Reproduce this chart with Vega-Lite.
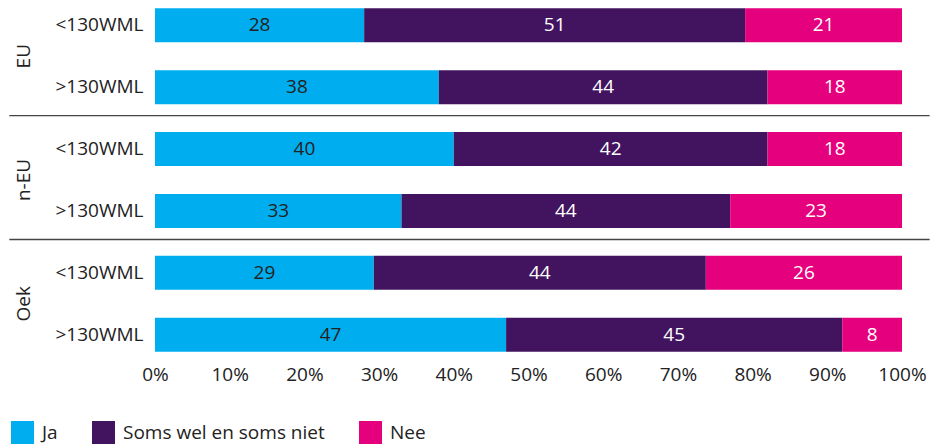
{
  "$schema": "https://vega.github.io/schema/vega-lite/v6.json",
  "autosize": {"type": "none"},
  "padding": {"left": 155, "top": 0, "right": 31, "bottom": 87},
  "width": 747,
  "height": 360,
  "background": "white",
  "config": {
    "font": "Open Sans",
    "view": {"stroke": null},
    "axis": {"labelFont": "Open Sans", "labelColor": "#222", "labelFontSize": 19},
    "axisY": {"title": null, "domain": false, "ticks": false, "labelPadding": 12, "labelLimit": 200, "labelExpr": "split(datum.value, '|')[1]"}
  },
  "datasets": {
    "main": [
      {"row": "EU|<130WML", "cat": "Ja", "k": 1, "v": 28},
      {"row": "EU|<130WML", "cat": "Soms wel en soms niet", "k": 2, "v": 51},
      {"row": "EU|<130WML", "cat": "Nee", "k": 3, "v": 21},
      {"row": "EU|>130WML", "cat": "Ja", "k": 1, "v": 38},
      {"row": "EU|>130WML", "cat": "Soms wel en soms niet", "k": 2, "v": 44},
      {"row": "EU|>130WML", "cat": "Nee", "k": 3, "v": 18},
      {"row": "n-EU|<130WML", "cat": "Ja", "k": 1, "v": 40},
      {"row": "n-EU|<130WML", "cat": "Soms wel en soms niet", "k": 2, "v": 42},
      {"row": "n-EU|<130WML", "cat": "Nee", "k": 3, "v": 18},
      {"row": "n-EU|>130WML", "cat": "Ja", "k": 1, "v": 33},
      {"row": "n-EU|>130WML", "cat": "Soms wel en soms niet", "k": 2, "v": 44},
      {"row": "n-EU|>130WML", "cat": "Nee", "k": 3, "v": 23},
      {"row": "Oek|<130WML", "cat": "Ja", "k": 1, "v": 29},
      {"row": "Oek|<130WML", "cat": "Soms wel en soms niet", "k": 2, "v": 44},
      {"row": "Oek|<130WML", "cat": "Nee", "k": 3, "v": 26},
      {"row": "Oek|>130WML", "cat": "Ja", "k": 1, "v": 47},
      {"row": "Oek|>130WML", "cat": "Soms wel en soms niet", "k": 2, "v": 45},
      {"row": "Oek|>130WML", "cat": "Nee", "k": 3, "v": 8}
    ],
    "seps": [
      {"row": "n-EU|<130WML"},
      {"row": "Oek|<130WML"}
    ],
    "groups": [
      {"row": "EU|>130WML", "g": "EU"},
      {"row": "n-EU|>130WML", "g": "n-EU"},
      {"row": "Oek|>130WML", "g": "Oek"}
    ]
  },
  "layer": [
    {
      "data": {"name": "main"},
      "mark": {"type": "bar"},
      "encoding": {
        "y": {
          "field": "row", "type": "nominal", "title": null,
          "sort": ["EU|<130WML", "EU|>130WML", "n-EU|<130WML", "n-EU|>130WML", "Oek|<130WML", "Oek|>130WML"],
          "scale": {"paddingInner": 0.45, "paddingOuter": 0.133}
        },
        "x": {
          "field": "v", "type": "quantitative", "stack": "normalize", "title": null,
          "scale": {"domain": [0, 1]},
          "axis": {"title": null, "domain": false, "ticks": false, "grid": false, "values": [0, 0.1, 0.2, 0.3, 0.4, 0.5, 0.6, 0.7, 0.8, 0.9, 1], "format": ".0%", "labelPadding": 5, "labelFlush": false, "labelOverlap": false, "labelBound": false}
        },
        "color": {
          "field": "cat", "type": "nominal",
          "scale": {"domain": ["Ja", "Soms wel en soms niet", "Nee"], "range": ["#00AEEF", "#42145F", "#E5007D"]},
          "legend": {
            "title": null, "orient": "none", "direction": "horizontal",
            "legendX": -144, "legendY": 421,
            "symbolType": "square", "symbolSize": 529, "symbolStrokeWidth": 0,
            "labelFontSize": 19, "labelColor": "#222", "labelFont": "Open Sans", "labelLimit": 400,
            "labelOffset": 8, "columnPadding": 34, "symbolOpacity": 1
          }
        },
        "order": {"field": "k", "type": "quantitative"}
      }
    },
    {
      "data": {"name": "main"},
      "mark": {"type": "text", "fontSize": 19, "font": "Open Sans", "baseline": "middle", "align": "center"},
      "encoding": {
        "y": {
          "field": "row", "type": "nominal", "title": null,
          "sort": ["EU|<130WML", "EU|>130WML", "n-EU|<130WML", "n-EU|>130WML", "Oek|<130WML", "Oek|>130WML"]
        },
        "x": {"field": "v", "type": "quantitative", "stack": "normalize", "bandPosition": 0.5, "title": null, "scale": {"domain": [0, 1]}},
        "detail": {"field": "cat"},
        "order": {"field": "k", "type": "quantitative"},
        "color": {"condition": {"test": "datum.cat === 'Ja'", "value": "#222"}, "value": "white"},
        "text": {"field": "v", "type": "quantitative"}
      }
    },
    {
      "data": {"name": "seps"},
      "mark": {"type": "rule", "color": "#444", "strokeWidth": 1.3},
      "encoding": {
        "y": {
          "field": "row", "type": "nominal", "bandPosition": -0.48, "title": null,
          "sort": ["EU|<130WML", "EU|>130WML", "n-EU|<130WML", "n-EU|>130WML", "Oek|<130WML", "Oek|>130WML"]
        },
        "x": {"datum": -0.195, "type": "quantitative", "scale": {"domain": [0, 1]}},
        "x2": {"datum": 1.037}
      }
    },
    {
      "data": {"name": "groups"},
      "mark": {"type": "text", "color": "#222", "fontSize": 19, "font": "Open Sans", "angle": 270, "align": "center", "baseline": "middle"},
      "encoding": {
        "y": {
          "field": "row", "type": "nominal", "bandPosition": -0.41, "title": null,
          "sort": ["EU|<130WML", "EU|>130WML", "n-EU|<130WML", "n-EU|>130WML", "Oek|<130WML", "Oek|>130WML"]
        },
        "x": {"datum": -0.175, "type": "quantitative", "scale": {"domain": [0, 1]}},
        "text": {"field": "g"}
      }
    }
  ]
}
